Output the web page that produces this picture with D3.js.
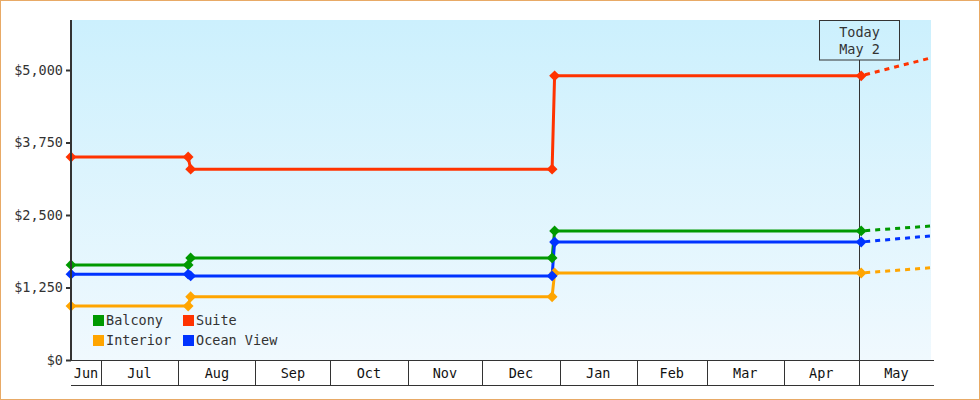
<!DOCTYPE html>
<html>
<head>
<meta charset="utf-8">
<script src="https://cdn.jsdelivr.net/npm/d3@7"></script>
<style>
html,body{margin:0;padding:0;background:#fff;}
svg{display:block;}
text{font-family:"DejaVu Sans Mono",monospace;}
</style>
</head>
<body>
<svg id="chart" width="980" height="400"></svg>
<script>
// ---- data ----
const seriesNames = ["Balcony", "Suite", "Interior", "Ocean View"];
const seriesColors = ["#009900", "#ff3300", "#ffa500", "#0033ff"];
const dates = ["2024-06-19", "2024-08-05", "2024-08-06", "2024-12-29", "2024-12-30", "2025-05-02"];
const balcony   = [1640, 1640, 1760, 1760, 2225, 2225];
const suite     = [3500, 3500, 3290, 3290, 4900, 4900];
const interior  = [930, 930, 1090, 1090, 1500, 1500];
const oceanView = [1480, 1480, 1450, 1450, 2035, 2035];
const projDate = "2025-05-30";
const projected = [2310, 5210, 1590, 2140];
const yTicks = [0, 1250, 2500, 3750, 5000];
const monthLabels = ["Jun","Jul","Aug","Sep","Oct","Nov","Dec","Jan","Feb","Mar","Apr","May"];
const todayDate = "2025-05-02";
const todayLabel = ["Today", "May 2"];
const domainDates = ["2024-06-19", "2025-05-30"];

const seriesValues = [balcony, suite, interior, oceanView];

const svg = d3.select("#chart");
const W = 980, H = 400;
const mLeft = 71, mRight = 931, mTop = 20, mBottom = 360, axisBottom = 385;
const parse = d3.utcParse("%Y-%m-%d");
const FS = 13.5;

const x = d3.scaleUtc().domain(domainDates.map(parse)).range([mLeft, mRight]);
const y = d3.scaleLinear().domain([0, 5000]).range([mBottom, mBottom - 290]);

// outer frame
svg.append("rect").attr("x",0.5).attr("y",0.5).attr("width",W-1).attr("height",H-1)
  .attr("fill","#fff").attr("stroke","#e8aa66");

// background gradient
const defs = svg.append("defs");
const grad = defs.append("linearGradient").attr("id","bg").attr("x1",0).attr("y1",0).attr("x2",0).attr("y2",1);
grad.append("stop").attr("offset","0%").attr("stop-color","#ccf0fd");
grad.append("stop").attr("offset","100%").attr("stop-color","#f0f9fe");
svg.append("rect").attr("x",mLeft).attr("y",mTop).attr("width",mRight-mLeft).attr("height",mBottom-mTop).attr("fill","url(#bg)");

// clip
defs.append("clipPath").attr("id","clip").append("rect")
  .attr("x",mLeft).attr("y",mTop-5).attr("width",mRight-mLeft).attr("height",mBottom-mTop+5);

// today marker
const tx = Math.round(x(parse(todayDate))) - 1.5;
svg.append("line").attr("x1",tx).attr("x2",tx).attr("y1",60).attr("y2",mBottom)
  .attr("stroke","#333").attr("stroke-width",1);
svg.append("rect").attr("x",tx-40).attr("y",20.5).attr("width",80).attr("height",39.5)
  .attr("fill","none").attr("stroke","#333").attr("stroke-width",1);
svg.append("text").attr("x",tx).attr("y",37).attr("text-anchor","middle").attr("font-size",FS).attr("fill","#333").text(todayLabel[0]);
svg.append("text").attr("x",tx).attr("y",54).attr("text-anchor","middle").attr("font-size",FS).attr("fill","#333").text(todayLabel[1]);

// series
const g = svg.append("g").attr("clip-path","url(#clip)");
const line = d3.line().x(d => x(d[0])).y(d => y(d[1]));
seriesValues.forEach((vals, i) => {
  const pts = dates.map((d, j) => [parse(d), vals[j]]);
  const last = pts[pts.length-1];
  g.append("path").datum([last, [parse(projDate), projected[i]]]).attr("d", line)
    .attr("fill","none").attr("stroke",seriesColors[i]).attr("stroke-width",3).attr("stroke-dasharray","5,5").attr("stroke-dashoffset",-4);
  g.append("path").datum(pts).attr("d", line)
    .attr("fill","none").attr("stroke",seriesColors[i]).attr("stroke-width",3);
  svg.append("g").selectAll("path").data(pts).join("path")
    .attr("d", d3.symbol(d3.symbolDiamond2, 75))
    .attr("transform", d => `translate(${x(d[0])},${y(d[1])})`)
    .attr("fill", seriesColors[i]);
});

// y axis
const ya = svg.append("g").attr("transform",`translate(${mLeft},0)`)
  .call(d3.axisLeft(y).tickValues(yTicks).tickSize(5).tickPadding(3).tickFormat(d => "$" + d3.format(",")(d)));
ya.select(".domain").remove();
ya.selectAll(".tick line").attr("stroke","#333").attr("stroke-width",2);
ya.selectAll(".tick text").attr("font-size",FS).attr("fill","#333").attr("font-family","DejaVu Sans Mono, monospace");
svg.append("line").attr("x1",mLeft).attr("x2",mLeft).attr("y1",mTop).attr("y2",mBottom+1).attr("stroke","#333").attr("stroke-width",2);

// x axis band
const months = d3.utcMonth.range(d3.utcMonth.ceil(x.domain()[0]), x.domain()[1]);
const bounds = [x.domain()[0], ...months, x.domain()[1]];
svg.append("line").attr("x1",mLeft).attr("x2",mRight+3).attr("y1",mBottom+0.5).attr("y2",mBottom+0.5).attr("stroke","#333");
svg.append("line").attr("x1",mLeft).attr("x2",mRight+3).attr("y1",axisBottom+0.5).attr("y2",axisBottom+0.5).attr("stroke","#333");
svg.append("g").selectAll("line").data(months).join("line")
  .attr("x1", d => Math.round(x(d))+0.5).attr("x2", d => Math.round(x(d))+0.5)
  .attr("y1", mBottom).attr("y2", axisBottom).attr("stroke","#333");
svg.append("g").selectAll("text").data(monthLabels).join("text")
  .attr("x", (d,i) => (x(bounds[i]) + x(bounds[i+1]))/2 + (i===bounds.length-2 ? 1.5 : 0))
  .attr("y", 378).attr("text-anchor","middle").attr("font-size",FS).attr("fill","#111").text(d => d);

// legend
const legPos = [[93,320],[183,320],[93,340],[183,340]];
seriesNames.forEach((n,i) => {
  const [lx, ly] = legPos[i];
  svg.append("rect").attr("x",lx).attr("y",ly-5).attr("width",11).attr("height",11).attr("fill",seriesColors[i]);
  svg.append("text").attr("x",lx+13).attr("y",ly+5).attr("font-size",FS).attr("fill","#333").text(n);
});
</script>
</body>
</html>
